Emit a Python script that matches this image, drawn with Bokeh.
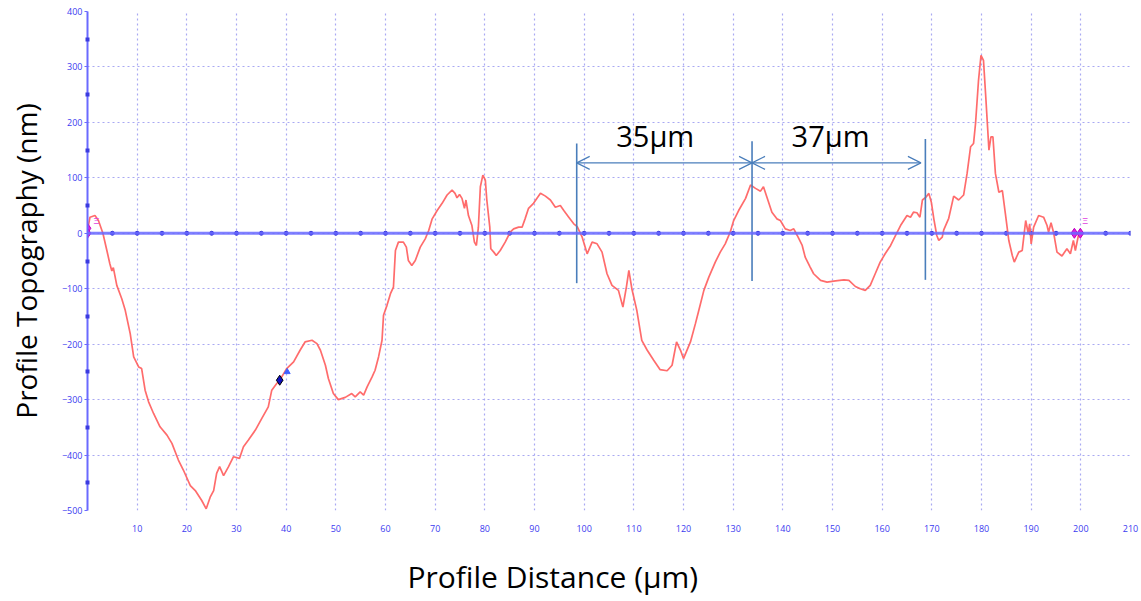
import numpy as np
from bokeh.plotting import figure
from bokeh.models import (FixedTicker, Span, Arrow, OpenHead, Range1d, Title)
from bokeh.core.properties import value
from bokeh.embed import file_html
from bokeh.resources import INLINE

# ---------------- data ----------------
dist_um = [
    0, 0.5, 1.5, 2.2, 3.1, 3.9, 4.5, 4.9, 5.2, 5.9, 6.9, 7.6, 8.6, 9.3, 10.3, 10.9,
    11.6, 12.3, 13.3, 14.6, 16, 17, 18.3, 19.3, 20.7, 21.7, 23, 23.9, 24.7, 25.4,
    26, 26.6, 27.4, 28.4, 29.4, 30.6, 31.4, 32.4, 33.8, 35.1, 36.4, 37.1, 38.1,
    38.7, 40.1, 41.5, 42.8, 43.8, 45.2, 46.2, 46.9, 47.9, 48.5, 49.5, 50.5, 51.9,
    53.2, 53.9, 54.9, 55.6, 56.3, 57.3, 57.9, 58.6, 59.3, 59.6, 60.3, 61, 61.6,
    62, 62.6, 63.6, 64.2, 64.6, 65.3, 66, 67, 68, 68.7, 69.4, 70.4, 71.4, 72.4,
    73.4, 74, 74.4, 74.9, 75.4, 75.9, 76.2, 76.7, 77.4, 77.9, 78.3, 78.7, 79.1,
    79.6, 80.1, 80.4, 81, 81.2, 81.8, 82.3, 83.1, 84.1, 85.1, 85.8, 86.8, 87.5,
    88.1, 88.8, 89.8, 91.2, 92.2, 93.2, 94.2, 95.2, 95.9, 96.9, 97.9, 98.6, 99.6,
    100.6, 101.6, 102.6, 103.6, 104.6, 105.6, 106.9, 107.8, 108.5, 109, 109.6,
    110.6, 111.6, 112.7, 114, 115.3, 116.7, 117.7, 118.6, 119.4, 120, 121.4,
    122.4, 123, 124.1, 125.1, 126.4, 127.4, 128.4, 129.4, 130.1, 131.1, 132.5,
    133.5, 134.5, 135.5, 136.1, 136.8, 137.8, 138.8, 139.5, 140.5, 141.5, 142.2,
    142.9, 143.9, 144.5, 145.5, 146.2, 147.6, 148.9, 150.6, 152.3, 153.3, 154.6,
    155.6, 156.6, 157.6, 158.6, 159.6, 160.6, 161.7, 162.7, 163.7, 165, 165.7,
    166.3, 167, 167.6, 168.1, 168.8, 169.4, 169.9, 170.4, 171, 171.4, 172.1,
    172.4, 173.4, 174.4, 175.4, 176.4, 177.1, 177.8, 178.4, 178.8, 179.4, 179.9,
    180.4, 180.9, 181.5, 181.9, 182.3, 182.8, 183.5, 184.2, 184.8, 185.5, 186.2,
    186.6, 187.5, 188.2, 188.9, 189.4, 189.7, 190, 190.5, 191.5, 192.5, 193.2,
    193.5, 194, 194.5, 195.2, 196.2, 197.2, 197.9, 198.5, 198.9, 199.6, 199.9,
]
height_nm = [
    5, 29, 32, 23, 0, -31, -55, -68, -62, -94, -118, -139, -181, -223, -241, -244,
    -283, -304, -325, -349, -364, -379, -409, -427, -455, -464, -482, -497, -476, -464,
    -433, -421, -437, -421, -403, -406, -385, -373, -355, -334, -313, -283, -271,
    -265, -244, -232, -211, -196, -193, -199, -211, -238, -262, -289, -300, -296,
    -289, -295, -286, -292, -277, -259, -247, -223, -193, -148, -130, -109, -97,
    -31, -16, -16, -25, -49, -58, -49, -25, -10, 5, 26, 41, 54, 69,
    78, 72, 64, 70, 63, 45, 60, 32, 14, -16, -22, 11, 84,
    105, 96, 60, 11, -28, -34, -40, -31, -16, 2, 8, 11, 11,
    26, 45, 54, 72, 67, 60, 47, 50, 41, 29, 17, 12, -7,
    -37, -16, -19, -34, -73, -94, -103, -133, -97, -67, -100,
    -139, -193, -211, -229, -246, -248, -238, -196, -211, -226, -196,
    -163, -142, -103, -79, -52, -34, -19, 2, 23, 41, 63,
    87, 81, 76, 84, 65, 38, 26, 23, 8, 5, 8,
    -4, -22, -43, -61, -73, -85, -88, -86, -84, -85, -96,
    -100, -103, -94, -73, -52, -37, -22, -4, 14, 32, 29,
    38, 37, 29, 60, 65, 72, 56, 26, -4, -13, -7,
    6, 27, 67, 60, 69, 108, 156, 162, 198, 276, 321,
    312, 240, 150, 174, 174, 108, 74, 77, 36, -13, -40,
    -52, -34, -31, 23, 0, 17, -19, 11, 32, 29, 14,
    2, 19, 2, -34, -41, -28, -37, -13, -31, 0, 2,
]
assert len(dist_um) == len(height_nm)

x_ticks = list(range(10, 220, 10))
x_grid = list(range(0, 220, 10))
y_ticks = list(range(-500, 500, 100))
y_minor = list(range(-450, 400, 100))

# cursor markers
cursor_start_x = [0, 0]
cursor_start_y = [9, 0]
cursor_end_x = [198.7, 199.9]
cursor_end_y = [0, 0]
cursor_mid_x = [38.7]
cursor_mid_y = [-265]

# measurement annotation
meas_x = [98.5, 133.8, 168.7]
meas_top = [162, 166, 170]
meas_bot = [-90, -86, -84]
arrow_y = 127
arrow_x2 = 167.8
meas_labels = ["35μm", "37μm"]
meas_label_x = [114.3, 149.6]
meas_label_y = 177

FONT = "Open Sans"
TICK_BLUE = "#3b3bf0"

p = figure(width=1141, height=601, output_backend="svg", toolbar_location=None,
           x_range=Range1d(0, 210), y_range=Range1d(-500, 400),
           min_border_left=87, min_border_right=11, min_border_top=11,
           min_border_bottom=91)
p.outline_line_color = None
p.background_fill_color = "white"
p.border_fill_color = "white"

# grids
p.xgrid.ticker = FixedTicker(ticks=x_grid)
p.ygrid.ticker = FixedTicker(ticks=y_ticks)
for g in (p.xgrid, p.ygrid):
    g.grid_line_color = "#a9a9f2"
    g.grid_line_dash = "2 3"
    g.grid_line_width = 1.2

# x axis: labels only (blank axis label just reserves vertical space)
xa = p.xaxis[0]
xa.ticker = FixedTicker(ticks=x_ticks)
xa.axis_line_color = None
xa.major_tick_line_color = None
xa.minor_tick_line_color = None
xa.major_label_text_font = FONT
xa.major_label_text_font_size = "9px"
xa.major_label_text_color = TICK_BLUE
xa.major_label_standoff = 8
xa.axis_label = "\u00a0"
xa.axis_label_text_font_size = "6px"
xa.axis_label_standoff = 10

# y axis
ya = p.yaxis[0]
ya.ticker = FixedTicker(ticks=y_ticks, minor_ticks=y_minor)
ya.axis_line_color = "#6a6aff"
ya.axis_line_width = 2
ya.major_tick_line_color = "#6a6aff"
ya.major_tick_out = 3
ya.major_tick_in = 0
ya.minor_tick_line_color = "#3a3ae0"
ya.minor_tick_line_width = 4
ya.minor_tick_in = 2
ya.minor_tick_out = 2
ya.major_label_text_font = FONT
ya.major_label_text_font_size = "9px"
ya.major_label_text_color = TICK_BLUE
ya.major_label_standoff = 2
ya.axis_label = "Profile Topography (nm)"
ya.axis_label_text_font = FONT
ya.axis_label_text_font_size = "28px"
ya.axis_label_text_font_style = "normal"
ya.axis_label_text_color = "black"
ya.axis_label_standoff = 14

# zero line with dots
p.add_layout(Span(location=0, dimension="width", line_color="#6a6aff",
                  line_alpha=0.85, line_width=3))
zero_dots = np.arange(5, 215, 5)
p.scatter(zero_dots, np.zeros_like(zero_dots), size=4, color="#3030d8",
          marker="circle")

# profile
p.line(dist_um, height_nm, line_color="#ff5c5c", line_width=1.7, line_alpha=0.9)

# cursors
p.scatter(cursor_start_x, cursor_start_y, marker="diamond", size=10,
          fill_color="#e020e0", line_color="#c000c0")
p.scatter(cursor_end_x, cursor_end_y, marker="diamond", size=10,
          fill_color="#e020e0", line_color="#c000c0")
p.scatter(cursor_mid_x, cursor_mid_y, marker="diamond", size=10,
          fill_color="#1010c0", line_color="black")
p.scatter([40.2], [-250], marker="triangle", size=6, fill_color="#4060ff",
          line_color="#4060ff")
p.text([1.2, 200.3], [22, 22], text=["Ξ", "Ξ"], text_font_size="9px",
       text_color="#e040e0", text_baseline="middle")

# measurement lines + arrows
ANN = "#4a7ebb"
p.segment(meas_x, meas_bot, meas_x, meas_top, line_color=ANN, line_width=1.6)
for xs, xe in ((meas_x[0], meas_x[1]), (meas_x[1], arrow_x2)):
    p.add_layout(Arrow(start=OpenHead(size=13, line_color=ANN, line_width=1.2),
                       end=OpenHead(size=13, line_color=ANN, line_width=1.2),
                       x_start=xs, y_start=arrow_y, x_end=xe, y_end=arrow_y,
                       line_color=ANN, line_width=1.2))
p.text(meas_label_x, [meas_label_y] * 2, text=meas_labels,
       text_font=value(FONT), text_font_size="29px", text_color="black",
       text_align="center", text_baseline="middle")

# x axis title (offset to the left of centre, as in the original)
p.add_layout(Title(text="Profile Distance (μm)", align="left", offset=320,
                   vertical_align="bottom", standoff=0,
                   text_font=FONT, text_font_size="30px",
                   text_font_style="normal", text_color="black"), "below")

open("out.html", "w").write(file_html(p, INLINE))
